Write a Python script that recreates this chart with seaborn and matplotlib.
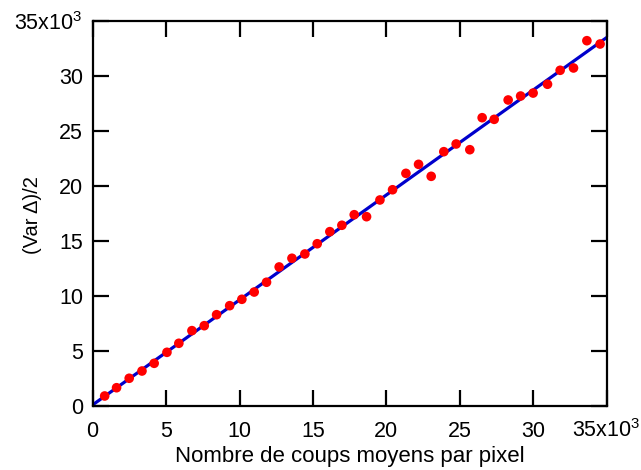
import numpy as np
import pandas as pd
import matplotlib
matplotlib.use("Agg")
import matplotlib.pyplot as plt
import seaborn as sns

# Data (counts in units)
mean_counts = [820, 1630, 2490, 3360, 4190, 5060, 5870, 6760, 7600, 8440,
               9330, 10160, 11000, 11840, 12700, 13570, 14450, 15290, 16150, 16970,
               17810, 18650, 19560, 20420, 21330, 22190, 23050, 23910, 24750, 25680,
               26520, 27340, 28290, 29140, 29990, 30970, 31830, 32740, 33650, 34550]
half_var = [910, 1660, 2520, 3180, 3880, 4880, 5700, 6850, 7300, 8300,
            9120, 9700, 10360, 11250, 12640, 13430, 13820, 14750, 15850, 16430,
            17390, 17210, 18730, 19660, 21150, 21970, 20880, 23120, 23820, 23300,
            26210, 26060, 27820, 28180, 28450, 29250, 30520, 30730, 33210, 32910]
fit_x = [0, 35000]
fit_y = [100, 33500]

x_ticks = [0, 5000, 10000, 15000, 20000, 25000, 30000, 35000]
tick_labels = ["0", "5", "10", "15", "20", "25", "30", "35x10$^{3}$"]

sns.set_theme(style="ticks")
plt.rcParams["font.family"] = ["Liberation Sans", "DejaVu Sans"]
plt.rcParams["mathtext.fontset"] = "custom"
plt.rcParams["mathtext.rm"] = "Liberation Sans"
plt.rcParams["mathtext.it"] = "Liberation Sans"
plt.rcParams["text.color"] = "black"
plt.rcParams["axes.labelcolor"] = "black"

fig = plt.figure(figsize=(6.41, 4.70), dpi=100)
ax = fig.add_axes([0.1445, 0.1362, 0.8020, 0.8191])

pts = pd.DataFrame({"x": mean_counts, "y": half_var})
fit = pd.DataFrame({"x": fit_x, "y": fit_y})

sns.lineplot(data=fit, x="x", y="y", ax=ax, color="#0000cc", linewidth=2.3, zorder=2)
sns.scatterplot(data=pts, x="x", y="y", ax=ax, color="#ff0000", s=48,
                edgecolor="none", linewidth=0, zorder=3)

ax.set_xlim(0, 35000)
ax.set_ylim(0, 35000)
ax.set_xticks(x_ticks)
ax.set_yticks(x_ticks)
ax.set_xticklabels(tick_labels)
ax.set_yticklabels(tick_labels)

for s in ax.spines.values():
    s.set_visible(True)
    s.set_linewidth(1.6)
    s.set_color("black")

ax.tick_params(direction="in", length=11.5, width=1.6, top=True, right=True,
               labelsize=15.5, colors="black", labelcolor="black")
ax.tick_params(axis="x", pad=22.5)
ax.tick_params(axis="y", pad=7)
plt.setp(ax.get_xticklabels(), va="baseline")

ax.set_xlabel("Nombre de coups moyens par pixel", fontsize=16, color="black")
ax.set_ylabel("(Var \u0394)/2", fontsize=14.5, color="black")
ax.xaxis.set_label_coords(0.5, -0.105)
ax.yaxis.set_label_coords(-0.099, 0.495)

fig.savefig("out.png", dpi=100)
